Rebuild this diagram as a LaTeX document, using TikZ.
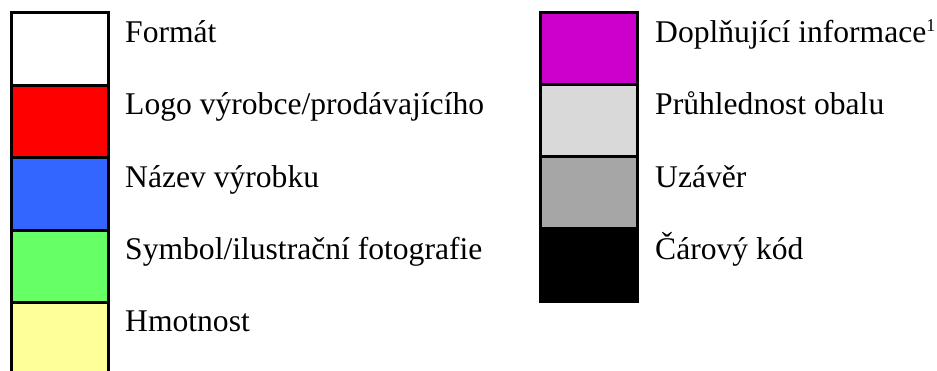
\documentclass[tikz,border=0pt]{standalone}
\usepackage{fontspec}
\setmainfont{Liberation Serif}
\definecolor{cred}{HTML}{FF0000}
\definecolor{cblue}{HTML}{3366FF}
\definecolor{cgreen}{HTML}{66FF66}
\definecolor{cyellow}{HTML}{FFFF99}
\definecolor{cmagenta}{HTML}{CC00CC}
\definecolor{clgrey}{HTML}{D9D9D9}
\definecolor{cgrey}{HTML}{A6A6A6}
\begin{document}
\begin{tikzpicture}[x=1pt,y=-1pt,
  swatch/.style={draw=black,line width=3pt,minimum width=97pt,minimum height=72.5pt,inner sep=0pt,outer sep=0pt},
  lbl/.style={anchor=base west,inner sep=0pt,font=\fontsize{31.6}{38}\selectfont}]
\useasboundingbox (0,0) rectangle (937,370);
\clip (0,0) rectangle (937,370);
% left column
\node[swatch,fill=white]   (s1) at (60,48.75) {};
\node[swatch,fill=cred]    (s2) at (60,121.25) {};
\node[swatch,fill=cblue]   (s3) at (60,193.75) {};
\node[swatch,fill=cgreen]  (s4) at (60,266.25) {};
\node[swatch,fill=cyellow] (s5) at (60,338.75) {};
% right column
\node[swatch,fill=cmagenta,minimum height=72pt] (r1) at (589,48.5) {};
\node[swatch,fill=clgrey,minimum height=72pt]   (r2) at (589,120.5) {};
\node[swatch,fill=cgrey,minimum height=72pt]    (r3) at (589,192.5) {};
\node[swatch,fill=black,minimum height=72pt]    (r4) at (589,265) {};
% labels
\node[lbl] (t1) at (125,42.3) {Formát};
\node[lbl] (t2) at (125,114.7) {Logo výrobce/prodávajícího};
\node[lbl] (t3) at (125,187.1) {Název výrobku};
\node[lbl] (t4) at (125,259.5) {Symbol/ilustrační fotografie};
\node[lbl] (t5) at (125,331.9) {Hmotnost};
\node[lbl] (u1) at (655,42.3) {Doplňující informace\raisebox{11pt}{\fontsize{18}{18}\selectfont 1}};
\node[lbl] (u2) at (655,114.7) {Průhlednost obalu};
\node[lbl] (u3) at (655,187.1) {Uzávěr};
\node[lbl] (u4) at (655,259.5) {Čárový kód};
\end{tikzpicture}
\end{document}
